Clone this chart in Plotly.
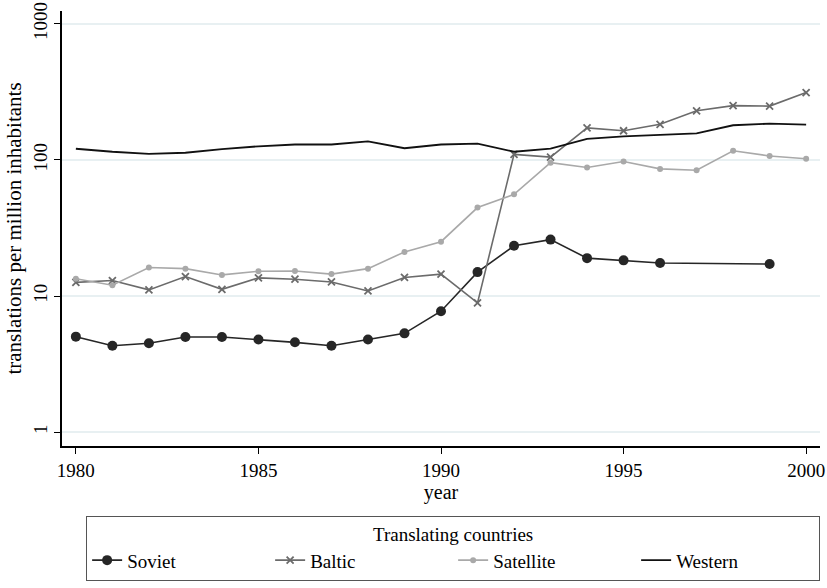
import plotly.graph_objects as go

years = list(range(1980, 2001))

soviet_years = list(range(1980, 1997)) + [1999]
soviet = [5.03, 4.31, 4.5, 5.0, 5.0, 4.79, 4.57, 4.31, 4.79, 5.32, 7.74, 15.0,
          23.4, 26.0, 19.0, 18.3, 17.5, 17.2]

baltic = [12.6, 13.0, 11.1, 13.9, 11.2, 13.6, 13.3, 12.7, 10.9, 13.7, 14.5, 8.9,
          110, 105, 172, 164, 183, 230, 251, 249, 313]

satellite = [13.4, 12.0, 16.2, 15.9, 14.3, 15.2, 15.3, 14.5, 15.9, 21.1, 25.1, 44.7,
             55.9, 95.5, 88, 97.5, 86, 84, 117, 107, 102]

western = [121, 115, 111, 113, 120, 126, 130, 130, 137, 122, 130, 132,
           115, 121, 143, 149, 153, 157, 180, 185, 182]

ytick_vals = [1, 10, 100, 1000]
ytick_text = ["1", "10", "100", "1000"]
xtick_vals = [1980, 1985, 1990, 1995, 2000]

FONT = "Liberation Serif"

fig = go.Figure()
fig.add_trace(go.Scatter(x=soviet_years, y=soviet, name="Soviet", mode="lines+markers",
                         line=dict(color="#262626", width=1.6),
                         marker=dict(symbol="circle", size=10, color="#262626")))
fig.add_trace(go.Scatter(x=years, y=baltic, name="Baltic", mode="lines+markers",
                         line=dict(color="#6b6b6b", width=1.6),
                         marker=dict(symbol="x-thin", size=7,
                                     line=dict(color="#6b6b6b", width=1.8), color="#6b6b6b")))
fig.add_trace(go.Scatter(x=years, y=satellite, name="Satellite", mode="lines+markers",
                         line=dict(color="#a9a9a9", width=1.6),
                         marker=dict(symbol="circle", size=6, color="#a9a9a9")))
fig.add_trace(go.Scatter(x=years, y=western, name="Western", mode="lines",
                         line=dict(color="#111111", width=1.8)))

fig.update_layout(
    width=827, height=588,
    margin=dict(l=62, r=7, t=11, b=138),
    paper_bgcolor="white", plot_bgcolor="white",
    font=dict(family=FONT, size=19, color="black"),
    xaxis=dict(range=[1979.62, 2000.38], tickvals=xtick_vals, showgrid=False,
               showline=True, linecolor="black", linewidth=1.5,
               ticks="outside", ticklen=6, tickcolor="black",
               tickfont=dict(size=19),
               title=dict(text="year", font=dict(size=20), standoff=0),
               zeroline=False, automargin=False),
    yaxis=dict(type="log", range=[-0.102, 3.095], tickvals=ytick_vals, ticktext=ytick_text,
               tickangle=-90, showgrid=True, gridcolor="#e8f0f2", gridwidth=1.5,
               showline=True, linecolor="black", linewidth=1.5,
               ticks="outside", ticklen=6, tickcolor="black",
               tickfont=dict(size=19),
               title=dict(text="translations per million inhabitants", font=dict(size=21), standoff=2),
               zeroline=False, automargin=False),
    legend=dict(orientation="h", x=0.516, xanchor="center", y=-0.16, yanchor="top",
                bordercolor="#555555", borderwidth=1,
                title=dict(text="Translating countries", side="top center", font=dict(size=19)),
                entrywidth=138, entrywidthmode="pixels",
                font=dict(size=19)),
    showlegend=True,
)

fig.write_html("out.html", config={"displayModeBar": False},
               post_script="document.body.style.margin='0px';")
